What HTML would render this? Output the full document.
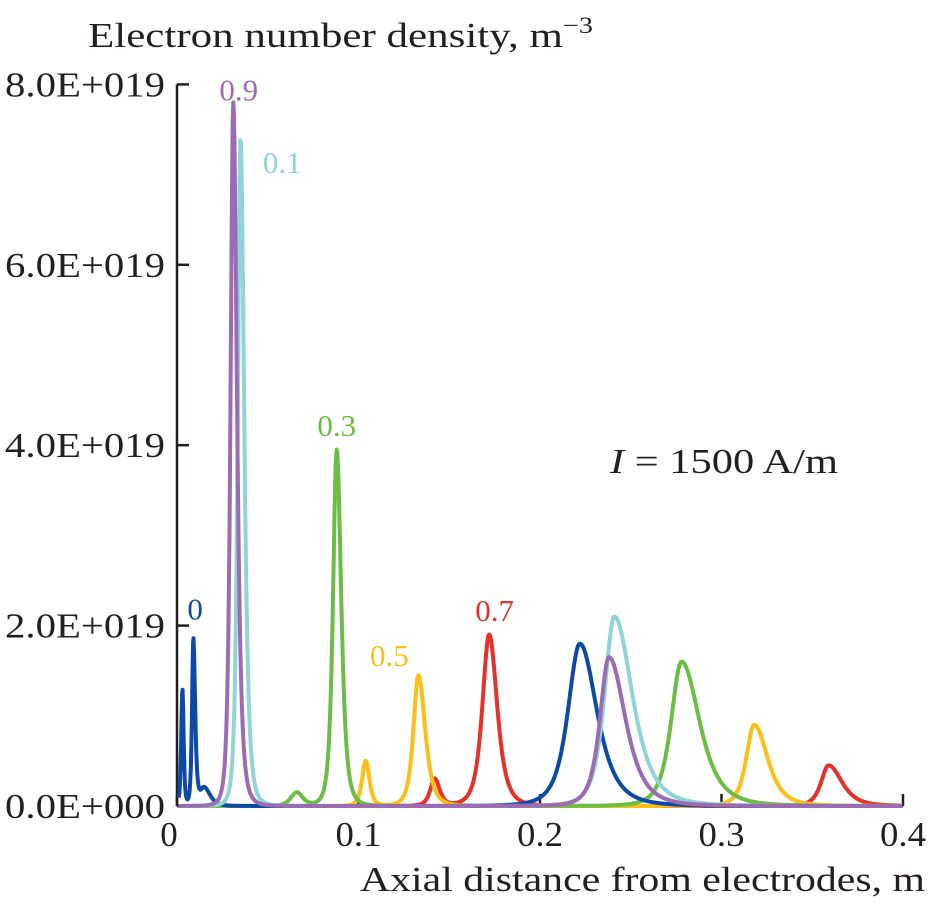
<!DOCTYPE html>
<html><head><meta charset="utf-8"><style>
body{margin:0;background:#fff;}
svg text{font-family:"Liberation Serif",serif;}
</style></head><body>
<svg id="chart" width="929" height="902" viewBox="0 0 929 902">
<text x="88" y="47" font-size="35" fill="#231f20" textLength="505" lengthAdjust="spacingAndGlyphs">Electron number density, m<tspan dy="-14" font-size="23">−3</tspan></text>
<text x="360" y="891" font-size="35" fill="#231f20" textLength="565" lengthAdjust="spacingAndGlyphs">Axial distance from electrodes, m</text>
<text x="610" y="473" font-size="35" fill="#231f20" textLength="228" lengthAdjust="spacingAndGlyphs"><tspan font-style="italic">I</tspan> = 1500 A/m</text>
<g id="axes"></g>
<g id="series"></g>
<g id="labels"></g>
</svg>
<script>
const xTicks=[0,0.1,0.2,0.3,0.4];
const xTickLabels=["0","0.1","0.2","0.3","0.4"];
const yTicks=[0,2,4,6,8];
const yTickLabels=["0.0E+000","2.0E+019","4.0E+019","6.0E+019","8.0E+019"];
const seriesNames=["0","0.1","0.3","0.5","0.7","0.9"];
const seriesColors=["#0d4aa6","#8ed4d8","#6cbd45","#fdbf16","#e8302b","#9b6bb3"];
// peaks: centers (m), heights (1E19 m^-3), left/right widths (m)
const peakCenters=[[0.003,0.009,0.015,0.222],[0.035,0.241],[0.066,0.088,0.278],[0.104,0.133,0.318],[0.142,0.172,0.359],[0.031,0.238]];
const peakHeights=[[1.3,1.85,0.2,1.8],[7.4,2.1],[0.15,3.95,1.6],[0.5,1.45,0.9],[0.3,1.9,0.45],[7.8,1.65]];
const peakWL=[[0.0012,0.0013,0.004,0.012],[0.0027,0.01],[0.006,0.0037,0.0105],[0.0037,0.005,0.008],[0.0045,0.0068,0.0075],[0.0027,0.009]];
const peakWR=[[0.0012,0.0018,0.006,0.017],[0.0037,0.018],[0.006,0.0045,0.018],[0.0037,0.0068,0.0135],[0.005,0.008,0.0135],[0.0037,0.0165]];
const labelX=[0.01,0.058,0.088,0.117,0.175,0.034];
const labelY=[2.07,7.02,4.1,1.55,2.05,7.82];

const NS="http://www.w3.org/2000/svg";
const sx=v=>177+v*1815;
const sy=v=>806-v*90.2;
const axes=document.getElementById('axes');
function mk(tag,attrs,parent){const e=document.createElementNS(NS,tag);for(const k in attrs)e.setAttribute(k,attrs[k]);parent.appendChild(e);return e;}
let yl=mk('line',{x1:sx(0),y1:sy(8),x2:sx(0),y2:sy(0),stroke:'#231f20','stroke-width':2.5},axes);


let xl=mk('line',{x1:sx(0),y1:sy(0),x2:sx(0.4),y2:sy(0),stroke:'#231f20','stroke-width':2.5},axes);


xTicks.forEach((t,i)=>{
 let l=mk('line',{x1:sx(t),y1:sy(0),x2:sx(t),y2:sy(0)-12,stroke:'#231f20','stroke-width':2.5},axes);
 
 
 let attrs={x:sx(t)+(i==0?-8:0),y:846,'font-size':35,fill:'#231f20','text-anchor':'middle'};
 if(i>0){attrs.textLength=46;attrs.lengthAdjust='spacingAndGlyphs';}
 let tx=mk('text',attrs,axes);
 tx.textContent=xTickLabels[i];
 
 
});
yTicks.forEach((t,i)=>{
 let l=mk('line',{x1:sx(0),y1:sy(t),x2:sx(0)+12,y2:sy(t),stroke:'#231f20','stroke-width':2.5},axes);
 
 
 let tx=mk('text',{x:5,y:sy(t)+12,'font-size':35,fill:'#231f20',textLength:160,lengthAdjust:'spacingAndGlyphs'},axes);
 tx.textContent=yTickLabels[i];
 
 
});
const sg=document.getElementById('series');
const lg=document.getElementById('labels');
[4,3,2,0,1,5].forEach(s=>{
 let pts=[];
 for(let x=0.001;x<=0.4;x+=0.0003){
  let v=0;
  peakCenters[s].forEach((c,j)=>{const w=x<c?peakWL[s][j]:peakWR[s][j];const d=(x-c)/w;const q=1+d*d;v+=peakHeights[s][j]/(q*q);});
  pts.push(sx(x).toFixed(1)+','+sy(v).toFixed(1));
 }
 let p=mk('polyline',{points:pts.join(' '),fill:'none',stroke:seriesColors[s],'stroke-width':4,'stroke-linejoin':'round'},sg);
 
 
 let t=mk('text',{x:sx(labelX[s]),y:sy(labelY[s]),'font-size':31,fill:seriesColors[s],'text-anchor':'middle'},lg);
 t.textContent=seriesNames[s];
 
 
});
</script>
</body></html>
